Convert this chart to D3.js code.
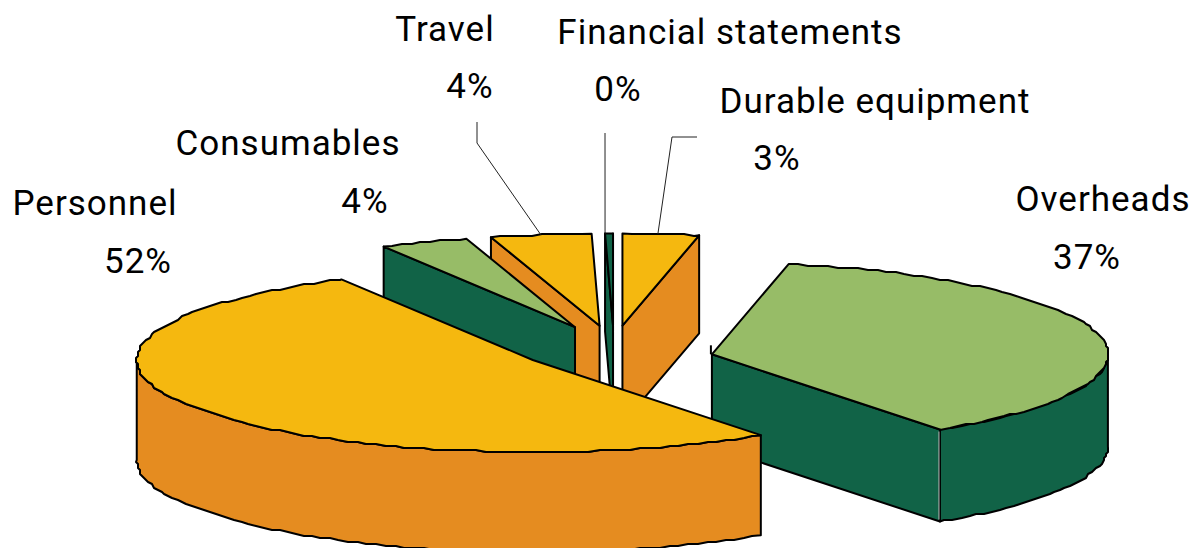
<!DOCTYPE html>
<html>
<head>
<meta charset="utf-8">
<script src="https://cdnjs.cloudflare.com/ajax/libs/d3/7.8.5/d3.min.js"></script>
<style>
    html, body { margin: 0; padding: 0; background: #fff; }
    svg { display: block; }
    text { font-family: "Roboto"; fill: #000; letter-spacing: 1px; }
</style>
</head>
<body>
<div id="chart"></div>
<script>
// pie data, clockwise from the top
var categories = ["Durable equipment", "Overheads", "Personnel", "Consumables", "Travel", "Financial statements"];
var shares = [3.1, 37.1, 51.7, 3.6, 4.1, 0.32];

var topColors = ["#F5B80F", "#97BC67", "#F5B80F", "#97BC67", "#F5B80F", "#116347"];
var sideColors = ["#E58C20", "#116347", "#E58C20", "#116347", "#E58C20", "#116347"];

// back to front
var drawOrder = ["Durable equipment", "Financial statements", "Travel", "Consumables", "Overheads", "Personnel"];

var width = 1195, height = 548;
var cx = 614, cy = 348, rx = 396, ry = 92;
var explode = 0.245;
var fontSize = 35;

// excel nudged these a bit off the radial line
var nudge = {
    "Overheads": [3, 11],
    "Personnel": [1, 0],
    "Durable equipment": [-1, 0],
    "Consumables": [-2, 0]
};
var depths = {"Overheads": 92, "Personnel": 100};
var defaultDepth = 98;

var labelPos = {
    "Durable equipment": {name: [875, 113], pct: [777, 170]},
    "Overheads": {name: [1103, 211], pct: [1087, 269]},
    "Personnel": {name: [95, 215], pct: [138, 273]},
    "Consumables": {name: [288, 155], pct: [365, 213]},
    "Travel": {name: [445, 41], pct: [470, 98]},
    "Financial statements": {name: [730, 44], pct: [618, 101]}
};

// leader lines run from these bends to the slice edge
var leaderBends = {
    "Durable equipment": {bends: [[697, 137], [672, 137]], at: 0.46},
    "Travel": {bends: [[477, 122], [477, 143]], at: 0.5},
    "Financial statements": {bends: [[605, 133]], at: 0}
};

var svg = d3.select("#chart").append("svg")
    .attr("width", width)
    .attr("height", height);

var pie = d3.pie()
    .sort(null)
    .startAngle(0)
    .endAngle(2 * Math.PI)
    .value(function(d){ return d; });

var xs = d3.scaleLinear().domain([-1, 1]).range([-rx, rx]);
var ys = d3.scaleLinear().domain([-1, 1]).range([ry, -ry]);

var slices = pie(shares).map(function(d, i){
    d.name = categories[i];
    d.top = topColors[i];
    d.side = sideColors[i];
    d.depth = depths[d.name] || defaultDepth;
    var mid = (d.startAngle + d.endAngle) / 2;
    var n = nudge[d.name] || [0, 0];
    d.ox = cx + xs(Math.sin(mid)) * explode + n[0];
    d.oy = cy + ys(Math.cos(mid)) * explode + n[1];
    return d;
});

// the source metafile has coarse coordinates, hence the wobbly rims
function snap(v){ return Math.round(v / 2) * 2; }

function rim(d, a){
    return [d.ox + xs(Math.sin(a)), d.oy + ys(Math.cos(a))];
}

function arcPoints(d, a0, a1){
    var pts = [];
    var step = 1.5 * Math.PI / 180;
    for(var a = a0; a < a1; a += step){
        var p = rim(d, a);
        pts.push([snap(p[0]), snap(p[1])]);
    }
    pts.push(rim(d, a1));
    pts[0] = rim(d, a0);
    return pts;
}

var line = d3.line();

function drawPoly(g, pts, fill){
    g.append("path")
        .attr("d", line(pts) + "Z")
        .attr("fill", fill)
        .attr("stroke", "#000")
        .attr("stroke-width", 2)
        .attr("stroke-linejoin", "round");
}

function radialWall(g, d, a){
    var p = rim(d, a);
    drawPoly(g, [[d.ox, d.oy], p, [p[0], p[1] + d.depth], [d.ox, d.oy + d.depth]], d.side);
}

drawOrder.forEach(function(name){
    var d = slices.find(function(s){ return s.name == name; });
    var g = svg.append("g").attr("class", "slice");
    var a0 = d.startAngle, a1 = d.endAngle;

    if(Math.sin(a0) < 0) radialWall(g, d, a0);
    if(Math.sin(a1) > 0) radialWall(g, d, a1);

    // outer wall, front half only
    var w0 = Math.max(a0, Math.PI / 2);
    var w1 = Math.min(a1, 3 * Math.PI / 2);
    if(w1 > w0){
        var upper = arcPoints(d, w0, w1);
        var lower = upper.map(function(p){ return [p[0], p[1] + d.depth]; }).reverse();
        drawPoly(g, upper.concat(lower), d.side);
    }

    drawPoly(g, [[d.ox, d.oy]].concat(arcPoints(d, a0, a1)), d.top);

    if(name == "Overheads"){
        // the double seam on the front corner and the little tick behind the apex
        var c = rim(d, a1);
        g.append("path")
            .attr("d", line([[c[0] - 1, c[1] + 2], [c[0] - 1, c[1] + d.depth - 2]]))
            .attr("stroke", "#bbb")
            .attr("stroke-width", 1);
        g.append("path")
            .attr("d", line([[d.ox - 1, d.oy - 9], [d.ox - 1, d.oy]]))
            .attr("stroke", "#000")
            .attr("stroke-width", 2);
    }
});

// leaders
slices.forEach(function(d){
    var l = leaderBends[d.name];
    if(!l) return;
    var a = d.startAngle + (d.endAngle - d.startAngle) * l.at;
    svg.append("path")
        .attr("d", line(l.bends.concat([rim(d, a)])))
        .attr("fill", "none")
        .attr("stroke", "#222")
        .attr("stroke-width", 1);
});

slices.forEach(function(d, i){
    var pos = labelPos[d.name];
    svg.append("text")
        .attr("x", pos.name[0])
        .attr("y", pos.name[1])
        .attr("text-anchor", "middle")
        .attr("font-size", fontSize)
        .text(d.name);
    svg.append("text")
        .attr("x", pos.pct[0])
        .attr("y", pos.pct[1])
        .attr("text-anchor", "middle")
        .attr("font-size", fontSize)
        .text(d3.format(".0f")(shares[i]) + "%");
});
</script>
</body>
</html>
